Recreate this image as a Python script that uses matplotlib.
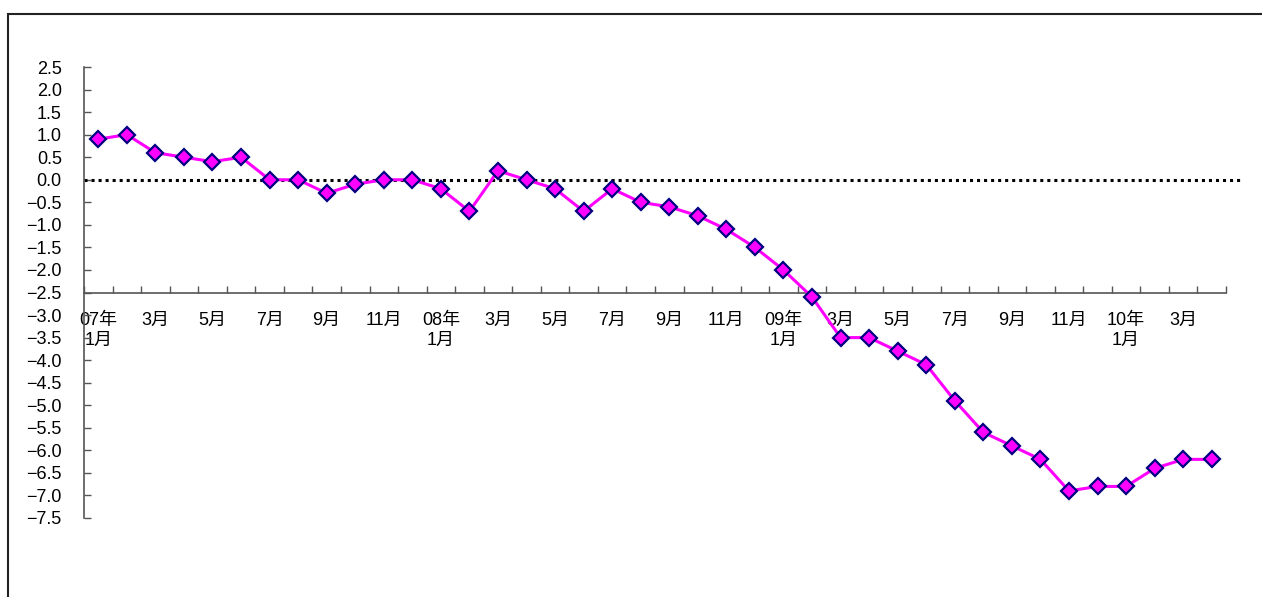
import matplotlib.pyplot as plt
from matplotlib.patches import Rectangle

plt.rcParams['font.family'] = ['Liberation Sans', 'Noto Sans CJK JP', 'DejaVu Sans']

# monthly values, 07/1 .. 10/4
values = [0.9, 1.0, 0.6, 0.5, 0.4, 0.5, 0.0, 0.0, -0.3, -0.1, 0.0, 0.0,
          -0.2, -0.7, 0.2, 0.0, -0.2, -0.7, -0.2, -0.5, -0.6, -0.8, -1.1, -1.5,
          -2.0, -2.6, -3.5, -3.5, -3.8, -4.1, -4.9, -5.6, -5.9, -6.2, -6.9, -6.8,
          -6.8, -6.4, -6.2, -6.2]

# label every second month
tick_labels = ["07年\n1月", "3月", "5月", "7月", "9月", "11月",
               "08年\n1月", "3月", "5月", "7月", "9月", "11月",
               "09年\n1月", "3月", "5月", "7月", "9月", "11月",
               "10年\n1月", "3月"]

n = len(values)
xs = [i + 0.5 for i in range(n)]

fig = plt.figure(figsize=(12.62, 5.97), dpi=100)
ax = fig.add_axes([84/1262, 1 - 518/597, 1142/1262, 451/597])

# outer frame (left and top edges visible)
fig.patches.append(Rectangle((8/1262, -0.2), 1.2, 1.2 - 14/597, transform=fig.transFigure,
                             fill=False, ec='#222222', lw=1.5))

# zero reference line
ax.plot([0, n + 0.5], [0, 0], color='black', lw=2.2, ls=(0, (1, 1.3)), clip_on=False, zorder=2)

ax.plot(xs, values, color='#FF00FF', lw=2.2, marker='D', ms=8.5,
        mfc='#FF00FF', mec='#000080', mew=1.6, zorder=3, clip_on=False)

ax.set_xlim(0, n)
ax.set_ylim(-7.5, 2.5)
ax.set_yticks([2.5 - 0.5 * k for k in range(21)])
ax.yaxis.set_major_formatter(plt.FuncFormatter(lambda v, p: f"{v:.1f}".replace('-', '\u2212')))

ax.spines['top'].set_visible(False)
ax.spines['right'].set_visible(False)
ax.spines['bottom'].set_position(('data', -2.5))
for s in ('left', 'bottom'):
    ax.spines[s].set_color('#555555')
    ax.spines[s].set_linewidth(1.2)

ax.set_xticks(range(n + 1))
ax.set_xticklabels([])
ax.set_xticks(xs[::2], minor=True)
ax.set_xticklabels(tick_labels, minor=True, va='top', ha='center', multialignment='center',
                   linespacing=1.2)
ax.tick_params(axis='x', which='major', direction='in', length=5, color='#555555', width=1)
ax.tick_params(axis='x', which='minor', length=0, pad=14, labelsize=13)
ax.tick_params(axis='y', direction='in', length=5, color='#555555', width=1, pad=16, labelsize=13)

fig.savefig('out.png', dpi=100)
